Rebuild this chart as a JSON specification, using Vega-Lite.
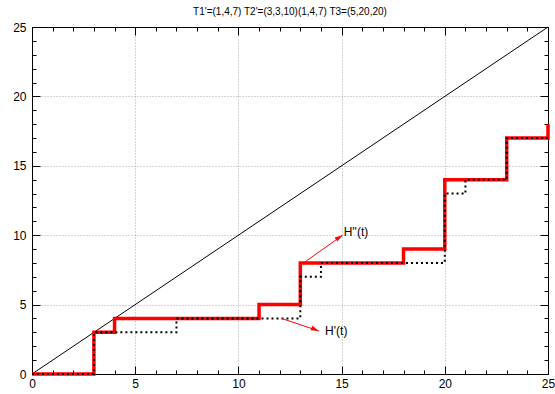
{
  "$schema": "https://vega.github.io/schema/vega-lite/v6.json",
  "width": 516,
  "height": 347,
  "autosize": {"type": "none"},
  "padding": {"left": 32, "top": 27, "right": 7, "bottom": 20},
  "background": "white",
  "config": {
    "font": "Liberation Sans",
    "view": {"stroke": "black", "strokeWidth": 1},
    "axis": {"labelFont": "Liberation Sans", "labelFontSize": 12, "labelColor": "black", "domainColor": "black", "tickColor": "black", "title": null}
  },
  "title": {"text": "T1'=(1,4,7) T2'=(3,3,10)(1,4,7) T3=(5,20,20)", "fontSize": 10, "fontWeight": "normal", "font": "Liberation Sans", "color": "black", "anchor": "middle", "offset": 4},
  "datasets": {
    "red": [
      {"t": 0, "h": 0}, {"t": 3, "h": 3}, {"t": 4, "h": 4}, {"t": 11, "h": 5}, {"t": 13, "h": 8},
      {"t": 18, "h": 9}, {"t": 20, "h": 14}, {"t": 23, "h": 17}, {"t": 25, "h": 18}
    ],
    "black": [
      {"t": 0, "h": 0}, {"t": 3, "h": 3}, {"t": 7, "h": 4}, {"t": 13, "h": 7}, {"t": 14, "h": 8},
      {"t": 20, "h": 13}, {"t": 21, "h": 14}, {"t": 23, "h": 17}, {"t": 25, "h": 17}
    ],
    "diag": [{"t": 0, "h": 0}, {"t": 25, "h": 25}],
    "arrows": [
      {"name": "H''(t)", "t": 13.2, "h": 8.05, "t2": 15.05, "h2": 10.0, "lt": 15.1, "lh": 10.2},
      {"name": "H'(t)", "t": 12.1, "h": 4.0, "t2": 13.9, "h2": 3.1, "lt": 14.2, "lh": 3.1}
    ]
  },
  "resolve": {"axis": {"x": "independent", "y": "independent"}},
  "layer": [
    {
      "data": {"name": "diag"},
      "mark": {"type": "line", "color": "black", "strokeWidth": 1},
      "encoding": {
        "x": {"field": "t", "type": "quantitative", "scale": {"domain": [0, 25], "nice": false},
          "axis": {"orient": "bottom", "values": [0,1,2,3,4,5,6,7,8,9,10,11,12,13,14,15,16,17,18,19,20,21,22,23,24,25],
            "labelExpr": "datum.value % 5 === 0 ? datum.label : ''",
            "tickSize": {"condition": {"test": "datum.value % 5 === 0", "value": -8}, "value": -4},
            "labelPadding": 12, "labelFlush": false, "labelOverlap": false,
            "grid": true, "gridColor": "#a8a8a8", "gridDash": [1, 2],
            "gridOpacity": {"condition": {"test": "datum.value % 5 === 0 && datum.value > 0 && datum.value < 25", "value": 1}, "value": 0}}},
        "y": {"field": "h", "type": "quantitative", "scale": {"domain": [0, 25], "nice": false},
          "axis": {"orient": "left", "values": [0,1,2,3,4,5,6,7,8,9,10,11,12,13,14,15,16,17,18,19,20,21,22,23,24,25],
            "labelExpr": "datum.value % 5 === 0 ? datum.label : ''",
            "tickSize": {"condition": {"test": "datum.value % 5 === 0", "value": -8}, "value": -4},
            "labelPadding": 14, "labelFlush": false, "labelOverlap": false,
            "grid": true, "gridColor": "#a8a8a8", "gridDash": [1, 2],
            "gridOpacity": {"condition": {"test": "datum.value % 5 === 0 && datum.value > 0 && datum.value < 25", "value": 1}, "value": 0}}}
      }
    },
    {
      "data": {"name": "red"},
      "mark": {"type": "line", "interpolate": "step-after", "color": "#ff0000", "strokeWidth": 3.5},
      "encoding": {
        "x": {"field": "t", "type": "quantitative",
          "axis": {"orient": "top", "values": [0,1,2,3,4,5,6,7,8,9,10,11,12,13,14,15,16,17,18,19,20,21,22,23,24,25],
            "labels": false, "grid": false,
            "tickSize": {"condition": {"test": "datum.value % 5 === 0", "value": -8}, "value": -4}}},
        "y": {"field": "h", "type": "quantitative",
          "axis": {"orient": "right", "values": [0,1,2,3,4,5,6,7,8,9,10,11,12,13,14,15,16,17,18,19,20,21,22,23,24,25],
            "labels": false, "grid": false,
            "tickSize": {"condition": {"test": "datum.value % 5 === 0", "value": -8}, "value": -4}}}
      }
    },
    {
      "data": {"name": "black"},
      "mark": {"type": "line", "interpolate": "step-after", "color": "black", "strokeWidth": 2, "strokeDash": [2, 3]},
      "encoding": {
        "x": {"field": "t", "type": "quantitative", "axis": null},
        "y": {"field": "h", "type": "quantitative", "axis": null}
      }
    },
    {
      "data": {"name": "arrows"},
      "mark": {"type": "rule", "color": "#ff0000", "strokeWidth": 1},
      "encoding": {
        "x": {"field": "t", "type": "quantitative", "axis": null},
        "y": {"field": "h", "type": "quantitative", "axis": null},
        "x2": {"field": "t2"},
        "y2": {"field": "h2"}
      }
    },
    {
      "data": {"name": "arrows"},
      "transform": [{"filter": "datum.name === \"H''(t)\""}],
      "mark": {"type": "point", "shape": "M0,0L-2,-0.6L-2,0.6Z", "filled": true, "color": "#ff0000", "opacity": 1, "size": 64, "angle": 327},
      "encoding": {
        "x": {"field": "t2", "type": "quantitative", "axis": null},
        "y": {"field": "h2", "type": "quantitative", "axis": null}
      }
    },
    {
      "data": {"name": "arrows"},
      "transform": [{"filter": "datum.name === \"H'(t)\""}],
      "mark": {"type": "point", "shape": "M0,0L-2,-0.6L-2,0.6Z", "filled": true, "color": "#ff0000", "opacity": 1, "size": 64, "angle": 21},
      "encoding": {
        "x": {"field": "t2", "type": "quantitative", "axis": null},
        "y": {"field": "h2", "type": "quantitative", "axis": null}
      }
    },
    {
      "data": {"name": "arrows"},
      "mark": {"type": "text", "align": "left", "baseline": "middle", "fontSize": 12, "font": "Liberation Sans", "color": "black"},
      "encoding": {
        "x": {"field": "lt", "type": "quantitative", "axis": null},
        "y": {"field": "lh", "type": "quantitative", "axis": null},
        "text": {"field": "name"}
      }
    }
  ]
}
